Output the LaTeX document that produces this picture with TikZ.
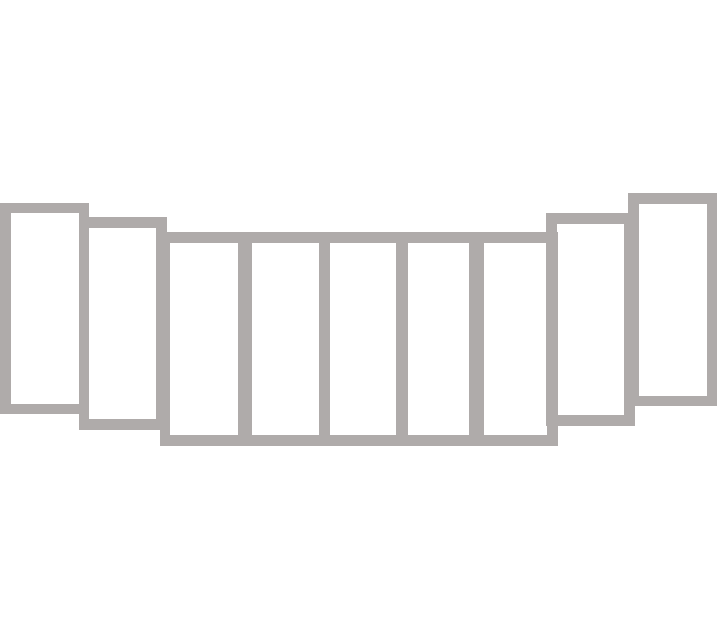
\documentclass[tikz,border=0pt]{standalone}
\definecolor{framegray}{RGB}{175,171,170}
\begin{document}
\begin{tikzpicture}[x=1pt,y=-1pt,
  panel/.style={draw=framegray,line width=10.5pt}]
\useasboundingbox (0,0) rectangle (717,640);
% left outer panels
\draw[panel] (5.5,207.9) rectangle (83.8,408.9);
\draw[panel] (83.8,222.5) rectangle (161.4,424.7);
% middle five panels
\draw[panel] (164.75,237.5) rectangle (242.95,440.4);
\draw[panel] (247.05,237.5) rectangle (324.55,440.4);
\draw[panel] (325.05,237.5) rectangle (400.95,440.4);
\draw[panel] (402.45,237.5) rectangle (474.55,440.4);
\draw[panel] (479.05,237.5) rectangle (552.55,440.4);
% right outer panels
\draw[panel] (551.7,218.5) rectangle (629.3,420.7);
\draw[panel] (633.3,198.6) rectangle (711.8,401);
\end{tikzpicture}
\end{document}
